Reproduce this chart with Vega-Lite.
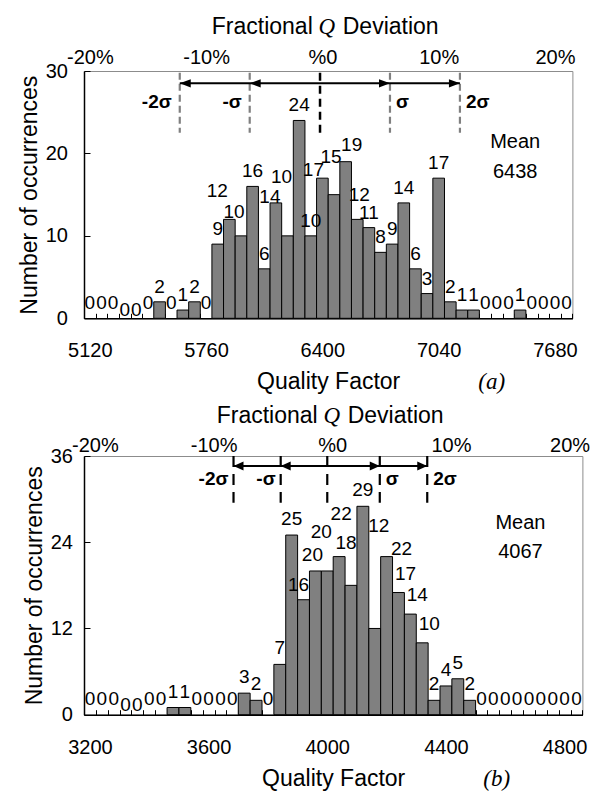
{
  "$schema": "https://vega.github.io/schema/vega-lite/v6.json",
  "background": "white",
  "padding": {"left": 17, "top": 15, "right": 5, "bottom": 0},
  "spacing": 9,
  "config": {
    "view": {"stroke": "#8c8c8c", "strokeWidth": 1},
    "axis": {"grid": false, "labelFont": "Liberation Sans", "titleFont": "Liberation Sans", "labelColor": "#000", "titleColor": "#000", "domainColor": "#000", "tickColor": "#000", "labelFontSize": 20, "titleFontSize": 23, "titleFontWeight": "normal"},
    "text": {"font": "Liberation Sans", "color": "#000", "fontSize": 19, "baseline": "alphabetic"}
  },
  "datasets": {
    "binsA": [
      {"lo":5088,"hi":5152,"mid":5120,"n":0},{"lo":5152,"hi":5216,"mid":5184,"n":0},{"lo":5216,"hi":5280,"mid":5248,"n":0},
      {"lo":5280,"hi":5344,"mid":5312,"n":0},{"lo":5344,"hi":5408,"mid":5376,"n":0},{"lo":5408,"hi":5472,"mid":5440,"n":0},
      {"lo":5472,"hi":5536,"mid":5504,"n":2},{"lo":5536,"hi":5600,"mid":5568,"n":0},{"lo":5600,"hi":5664,"mid":5632,"n":1},
      {"lo":5664,"hi":5728,"mid":5696,"n":2},{"lo":5728,"hi":5792,"mid":5760,"n":0},{"lo":5792,"hi":5856,"mid":5824,"n":9},
      {"lo":5856,"hi":5920,"mid":5888,"n":12},{"lo":5920,"hi":5984,"mid":5952,"n":10},{"lo":5984,"hi":6048,"mid":6016,"n":16},
      {"lo":6048,"hi":6112,"mid":6080,"n":6},{"lo":6112,"hi":6176,"mid":6144,"n":14},{"lo":6176,"hi":6240,"mid":6208,"n":10},
      {"lo":6240,"hi":6304,"mid":6272,"n":24},{"lo":6304,"hi":6368,"mid":6336,"n":10},{"lo":6368,"hi":6432,"mid":6400,"n":17},
      {"lo":6432,"hi":6496,"mid":6464,"n":15},{"lo":6496,"hi":6560,"mid":6528,"n":19},{"lo":6560,"hi":6624,"mid":6592,"n":12},
      {"lo":6624,"hi":6688,"mid":6656,"n":11},{"lo":6688,"hi":6752,"mid":6720,"n":8},{"lo":6752,"hi":6816,"mid":6784,"n":9},
      {"lo":6816,"hi":6880,"mid":6848,"n":14},{"lo":6880,"hi":6944,"mid":6912,"n":6},{"lo":6944,"hi":7008,"mid":6976,"n":3},
      {"lo":7008,"hi":7072,"mid":7040,"n":17},{"lo":7072,"hi":7136,"mid":7104,"n":2},{"lo":7136,"hi":7200,"mid":7168,"n":1},
      {"lo":7200,"hi":7264,"mid":7232,"n":1},{"lo":7264,"hi":7328,"mid":7296,"n":0},{"lo":7328,"hi":7392,"mid":7360,"n":0},
      {"lo":7392,"hi":7456,"mid":7424,"n":0},{"lo":7456,"hi":7520,"mid":7488,"n":1},{"lo":7520,"hi":7584,"mid":7552,"n":0},
      {"lo":7584,"hi":7648,"mid":7616,"n":0},{"lo":7648,"hi":7712,"mid":7680,"n":0},{"lo":7712,"hi":7776,"mid":7744,"n":0}
    ],
    "sigA": [
      {"k":-2,"pos":5615,"label":"-2σ"},{"k":-1,"pos":6000,"label":"-σ"},{"k":0,"pos":6387,"label":""},
      {"k":1,"pos":6772,"label":"σ"},{"k":2,"pos":7157,"label":"2σ"}
    ],
    "binsB": [
      {"lo":3180,"hi":3220,"mid":3200,"n":0},{"lo":3220,"hi":3260,"mid":3240,"n":0},{"lo":3260,"hi":3300,"mid":3280,"n":0},
      {"lo":3300,"hi":3340,"mid":3320,"n":0},{"lo":3340,"hi":3380,"mid":3360,"n":0},{"lo":3380,"hi":3420,"mid":3400,"n":0},
      {"lo":3420,"hi":3460,"mid":3440,"n":0},{"lo":3460,"hi":3500,"mid":3480,"n":1},{"lo":3500,"hi":3540,"mid":3520,"n":1},
      {"lo":3540,"hi":3580,"mid":3560,"n":0},{"lo":3580,"hi":3620,"mid":3600,"n":0},{"lo":3620,"hi":3660,"mid":3640,"n":0},
      {"lo":3660,"hi":3700,"mid":3680,"n":0},{"lo":3700,"hi":3740,"mid":3720,"n":3},{"lo":3740,"hi":3780,"mid":3760,"n":2},
      {"lo":3780,"hi":3820,"mid":3800,"n":0},{"lo":3820,"hi":3860,"mid":3840,"n":7},{"lo":3860,"hi":3900,"mid":3880,"n":25},
      {"lo":3900,"hi":3940,"mid":3920,"n":16},{"lo":3940,"hi":3980,"mid":3960,"n":20},{"lo":3980,"hi":4020,"mid":4000,"n":20},
      {"lo":4020,"hi":4060,"mid":4040,"n":22},{"lo":4060,"hi":4100,"mid":4080,"n":18},{"lo":4100,"hi":4140,"mid":4120,"n":29},
      {"lo":4140,"hi":4180,"mid":4160,"n":12},{"lo":4180,"hi":4220,"mid":4200,"n":22},{"lo":4220,"hi":4260,"mid":4240,"n":17},
      {"lo":4260,"hi":4300,"mid":4280,"n":14},{"lo":4300,"hi":4340,"mid":4320,"n":10},{"lo":4340,"hi":4380,"mid":4360,"n":2},
      {"lo":4380,"hi":4420,"mid":4400,"n":4},{"lo":4420,"hi":4460,"mid":4440,"n":5},{"lo":4460,"hi":4500,"mid":4480,"n":2},
      {"lo":4500,"hi":4540,"mid":4520,"n":0},{"lo":4540,"hi":4580,"mid":4560,"n":0},{"lo":4580,"hi":4620,"mid":4600,"n":0},
      {"lo":4620,"hi":4660,"mid":4640,"n":0},{"lo":4660,"hi":4700,"mid":4680,"n":0},{"lo":4700,"hi":4740,"mid":4720,"n":0},
      {"lo":4740,"hi":4780,"mid":4760,"n":0},{"lo":4780,"hi":4820,"mid":4800,"n":0},{"lo":4820,"hi":4860,"mid":4840,"n":0}
    ],
    "sigB": [
      {"k":-2,"pos":3684,"label":"-2σ"},{"k":-1,"pos":3843,"label":"-σ"},{"k":0,"pos":4000,"label":""},
      {"k":1,"pos":4177,"label":"σ"},{"k":2,"pos":4337,"label":"2σ"}
    ]
  },
  "vconcat": [
    {
      "width": 488.4,
      "height": 247.3,
      "resolve": {"axis": {"x": "independent"}},
      "layer": [
        {
          "data": {"name": "binsA"},
          "transform": [{"filter": "datum.n > 0"}],
          "mark": {"type": "rect", "fill": "#808080", "stroke": "#000", "strokeWidth": 1},
          "encoding": {
            "x": {"field": "lo", "type": "quantitative", "scale": {"domain": [5088, 7776], "nice": false, "zero": false},
              "axis": {"orient": "bottom", "values": [5088,5152,5216,5280,5344,5408,5472,5536,5600,5664,5728,5792,5856,5920,5984,6048,6112,6176,6240,6304,6368,6432,6496,6560,6624,6688,6752,6816,6880,6944,7008,7072,7136,7200,7264,7328,7392,7456,7520,7584,7648,7712,7776],
                "labelExpr": "indexof([5088,5728,6368,7008,7648], datum.value) >= 0 ? format(datum.value + 32, 'd') : ''",
                "labelOffset": 5.8, "labelFlush": false, "labelOverlap": false, "labelPadding": 27.6, "tickSize": -5, "domainWidth": 1.5,
                "title": "Quality Factor", "titlePadding": 10}},
            "x2": {"field": "hi"},
            "y": {"field": "n", "type": "quantitative", "scale": {"domain": [0, 30], "nice": false},
              "axis": {"values": [0, 10, 20, 30], "tickSize": -6, "labelPadding": 22.6, "domainWidth": 1.5, "title": "Number of occurrences", "titlePadding": 4}},
            "y2": {"datum": 0}
          }
        },
        {
          "data": {"name": "binsA"},
          "transform": [{"filter": "indexof([5312,5376,5888,5952,6144,6208,6400,6464,6528,6592], datum.mid) < 0"}],
          "mark": {"type": "text", "dy": -9},
          "encoding": {"x": {"field": "mid", "type": "quantitative", "axis": null}, "y": {"field": "n", "type": "quantitative"}, "text": {"field": "n", "type": "quantitative"}}
        },
        {
          "data": {"name": "binsA"},
          "transform": [{"filter": "datum.mid == 5312 || datum.mid == 5376"}],
          "mark": {"type": "text", "dy": -2},
          "encoding": {"x": {"field": "mid", "type": "quantitative", "axis": null}, "y": {"field": "n", "type": "quantitative"}, "text": {"field": "n", "type": "quantitative"}}
        },
        {
          "data": {"name": "binsA"},
          "transform": [{"filter": "datum.mid == 5888"}],
          "mark": {"type": "text", "dx": -12, "dy": -22},
          "encoding": {"x": {"field": "mid", "type": "quantitative", "axis": null}, "y": {"field": "n", "type": "quantitative"}, "text": {"field": "n", "type": "quantitative"}}
        },
        {
          "data": {"name": "binsA"},
          "transform": [{"filter": "datum.mid == 5952"}],
          "mark": {"type": "text", "dx": -7, "dy": -18},
          "encoding": {"x": {"field": "mid", "type": "quantitative", "axis": null}, "y": {"field": "n", "type": "quantitative"}, "text": {"field": "n", "type": "quantitative"}}
        },
        {
          "data": {"name": "binsA"},
          "transform": [{"filter": "datum.mid == 6144"}],
          "mark": {"type": "text", "dx": -6, "dy": 0},
          "encoding": {"x": {"field": "mid", "type": "quantitative", "axis": null}, "y": {"field": "n", "type": "quantitative"}, "text": {"field": "n", "type": "quantitative"}}
        },
        {
          "data": {"name": "binsA"},
          "transform": [{"filter": "datum.mid == 6208"}],
          "mark": {"type": "text", "dx": -6, "dy": -53},
          "encoding": {"x": {"field": "mid", "type": "quantitative", "axis": null}, "y": {"field": "n", "type": "quantitative"}, "text": {"field": "n", "type": "quantitative"}}
        },
        {
          "data": {"name": "binsA"},
          "transform": [{"filter": "datum.mid == 6400"}],
          "mark": {"type": "text", "dx": -9, "dy": -2},
          "encoding": {"x": {"field": "mid", "type": "quantitative", "axis": null}, "y": {"field": "n", "type": "quantitative"}, "text": {"field": "n", "type": "quantitative"}}
        },
        {
          "data": {"name": "binsA"},
          "transform": [{"filter": "datum.mid == 6464"}],
          "mark": {"type": "text", "dx": -3, "dy": -32},
          "encoding": {"x": {"field": "mid", "type": "quantitative", "axis": null}, "y": {"field": "n", "type": "quantitative"}, "text": {"field": "n", "type": "quantitative"}}
        },
        {
          "data": {"name": "binsA"},
          "transform": [{"filter": "datum.mid == 6528"}],
          "mark": {"type": "text", "dx": 6, "dy": -11},
          "encoding": {"x": {"field": "mid", "type": "quantitative", "axis": null}, "y": {"field": "n", "type": "quantitative"}, "text": {"field": "n", "type": "quantitative"}}
        },
        {
          "data": {"name": "binsA"},
          "transform": [{"filter": "datum.mid == 6592"}],
          "mark": {"type": "text", "dx": 2, "dy": -18},
          "encoding": {"x": {"field": "mid", "type": "quantitative", "axis": null}, "y": {"field": "n", "type": "quantitative"}, "text": {"field": "n", "type": "quantitative"}}
        },
        {
          "data": {"name": "sigA"},
          "transform": [{"filter": "datum.k != 0"}],
          "mark": {"type": "rule", "color": "#808080", "strokeWidth": 2.2, "strokeDash": [7, 4]},
          "encoding": {
            "x": {"field": "pos", "type": "quantitative",
              "axis": {"orient": "top", "values": [5120, 5760, 6400, 7040, 7680],
                "labelExpr": "datum.value == 5120 ? '-20%' : datum.value == 5760 ? '-10%' : datum.value == 6400 ? '%0' : datum.value == 7040 ? '10%' : '20%'",
                "ticks": false, "domain": false, "title": null, "labelPadding": 8, "labelBaseline": "alphabetic", "labelFlush": false, "labelOverlap": false}},
            "y": {"datum": 29.8},
            "y2": {"datum": 22.5}
          }
        },
        {
          "data": {"name": "sigA"},
          "transform": [{"filter": "datum.k == 0"}],
          "mark": {"type": "rule", "color": "#000", "strokeWidth": 2.5, "strokeDash": [8, 5]},
          "encoding": {"x": {"field": "pos", "type": "quantitative", "axis": null}, "y": {"datum": 29.8}, "y2": {"datum": 22.5}}
        },
        {
          "data": {"name": "sigA"},
          "mark": {"type": "rule", "color": "#000", "strokeWidth": 2},
          "encoding": {
            "x": {"aggregate": "min", "field": "pos", "type": "quantitative", "axis": null},
            "x2": {"aggregate": "max", "field": "pos"},
            "y": {"datum": 28.5}
          }
        },
        {
          "data": {"name": "sigA"},
          "transform": [{"filter": "datum.k < 0"}],
          "mark": {"type": "point", "shape": "M0,0L2,-0.73L2,0.73Z", "size": 121, "filled": true, "color": "#000", "opacity": 1, "strokeWidth": 0},
          "encoding": {"x": {"field": "pos", "type": "quantitative", "axis": null}, "y": {"datum": 28.5}}
        },
        {
          "data": {"name": "sigA"},
          "transform": [{"filter": "datum.k > 0"}],
          "mark": {"type": "point", "shape": "M0,0L-2,-0.73L-2,0.73Z", "size": 121, "filled": true, "color": "#000", "opacity": 1, "strokeWidth": 0},
          "encoding": {"x": {"field": "pos", "type": "quantitative", "axis": null}, "y": {"datum": 28.5}}
        },
        {
          "data": {"name": "sigA"},
          "transform": [{"filter": "datum.k < 0"}],
          "mark": {"type": "text", "fontWeight": "bold", "align": "right", "baseline": "middle", "dx": -8},
          "encoding": {"x": {"field": "pos", "type": "quantitative", "axis": null}, "y": {"datum": 26.2}, "text": {"field": "label"}}
        },
        {
          "data": {"name": "sigA"},
          "transform": [{"filter": "datum.k > 0"}],
          "mark": {"type": "text", "fontWeight": "bold", "align": "left", "baseline": "middle", "dx": 6},
          "encoding": {"x": {"field": "pos", "type": "quantitative", "axis": null}, "y": {"datum": 26.2}, "text": {"field": "label"}}
        },
        {
          "data": {"values": [{}]},
          "mark": {"type": "text", "text": ["Mean", "6438"], "fontSize": 20, "lineHeight": 30, "align": "center"},
          "encoding": {"x": {"datum": 7461, "type": "quantitative", "axis": null}, "y": {"datum": 20.7}}
        },
        {
          "data": {"values": [{}]},
          "mark": {"type": "text", "text": "Fractional", "fontSize": 23, "align": "right", "dx": -14},
          "encoding": {"x": {"datum": 6424, "type": "quantitative", "axis": null}, "y": {"datum": 34.5}}
        },
        {
          "data": {"values": [{}]},
          "mark": {"type": "text", "text": "Q", "font": "Liberation Serif", "fontStyle": "italic", "fontSize": 23, "align": "center"},
          "encoding": {"x": {"datum": 6424, "type": "quantitative", "axis": null}, "y": {"datum": 34.5}}
        },
        {
          "data": {"values": [{}]},
          "mark": {"type": "text", "text": "Deviation", "fontSize": 23, "align": "left", "dx": 16},
          "encoding": {"x": {"datum": 6424, "type": "quantitative", "axis": null}, "y": {"datum": 34.5}}
        },
        {
          "data": {"values": [{}]},
          "mark": {"type": "text", "text": "(a)", "font": "Liberation Serif", "fontStyle": "italic", "fontSize": 23, "align": "center"},
          "encoding": {"x": {"datum": 7332, "type": "quantitative", "axis": null}, "y": {"datum": -8.6}}
        }
      ]
    },
    {
      "width": 498.4,
      "height": 258.7,
      "resolve": {"axis": {"x": "independent"}},
      "layer": [
        {
          "data": {"name": "binsB"},
          "transform": [{"filter": "datum.n > 0"}],
          "mark": {"type": "rect", "fill": "#808080", "stroke": "#000", "strokeWidth": 1},
          "encoding": {
            "x": {"field": "lo", "type": "quantitative", "scale": {"domain": [3180, 4860], "nice": false, "zero": false},
              "axis": {"orient": "bottom", "values": [3180,3220,3260,3300,3340,3380,3420,3460,3500,3540,3580,3620,3660,3700,3740,3780,3820,3860,3900,3940,3980,4020,4060,4100,4140,4180,4220,4260,4300,4340,4380,4420,4460,4500,4540,4580,4620,4660,4700,4740,4780,4820,4860],
                "labelExpr": "indexof([3180,3580,3980,4380,4780], datum.value) >= 0 ? format(datum.value + 20, 'd') : ''",
                "labelOffset": 5.9, "labelFlush": false, "labelOverlap": false, "labelPadding": 27.6, "tickSize": -5, "domainWidth": 1.5,
                "title": "Quality Factor", "titlePadding": 10}},
            "x2": {"field": "hi"},
            "y": {"field": "n", "type": "quantitative", "scale": {"domain": [0, 36], "nice": false},
              "axis": {"values": [0, 12, 24, 36], "tickSize": -6, "labelPadding": 17.6, "domainWidth": 1.5, "title": "Number of occurrences", "titlePadding": 4}},
            "y2": {"datum": 0}
          }
        },
        {
          "data": {"name": "binsB"},
          "transform": [{"filter": "indexof([3320,3360,3920,3960,4000,4040,4080,4160,4200,4240,4280,4320], datum.mid) < 0"}],
          "mark": {"type": "text", "dy": -10},
          "encoding": {"x": {"field": "mid", "type": "quantitative", "axis": null}, "y": {"field": "n", "type": "quantitative"}, "text": {"field": "n", "type": "quantitative"}}
        },
        {
          "data": {"name": "binsB"},
          "transform": [{"filter": "datum.mid == 3320 || datum.mid == 3360"}],
          "mark": {"type": "text", "dy": -4},
          "encoding": {"x": {"field": "mid", "type": "quantitative", "axis": null}, "y": {"field": "n", "type": "quantitative"}, "text": {"field": "n", "type": "quantitative"}}
        },
        {
          "data": {"name": "binsB"},
          "transform": [{"filter": "datum.mid == 3920"}],
          "mark": {"type": "text", "dx": -5, "dy": -9},
          "encoding": {"x": {"field": "mid", "type": "quantitative", "axis": null}, "y": {"field": "n", "type": "quantitative"}, "text": {"field": "n", "type": "quantitative"}}
        },
        {
          "data": {"name": "binsB"},
          "transform": [{"filter": "datum.mid == 3960"}],
          "mark": {"type": "text", "dx": -3, "dy": -10},
          "encoding": {"x": {"field": "mid", "type": "quantitative", "axis": null}, "y": {"field": "n", "type": "quantitative"}, "text": {"field": "n", "type": "quantitative"}}
        },
        {
          "data": {"name": "binsB"},
          "transform": [{"filter": "datum.mid == 4000"}],
          "mark": {"type": "text", "dx": -6, "dy": -33},
          "encoding": {"x": {"field": "mid", "type": "quantitative", "axis": null}, "y": {"field": "n", "type": "quantitative"}, "text": {"field": "n", "type": "quantitative"}}
        },
        {
          "data": {"name": "binsB"},
          "transform": [{"filter": "datum.mid == 4040"}],
          "mark": {"type": "text", "dx": 2, "dy": -37},
          "encoding": {"x": {"field": "mid", "type": "quantitative", "axis": null}, "y": {"field": "n", "type": "quantitative"}, "text": {"field": "n", "type": "quantitative"}}
        },
        {
          "data": {"name": "binsB"},
          "transform": [{"filter": "datum.mid == 4080"}],
          "mark": {"type": "text", "dx": -5, "dy": -36},
          "encoding": {"x": {"field": "mid", "type": "quantitative", "axis": null}, "y": {"field": "n", "type": "quantitative"}, "text": {"field": "n", "type": "quantitative"}}
        },
        {
          "data": {"name": "binsB"},
          "transform": [{"filter": "datum.mid == 4160"}],
          "mark": {"type": "text", "dx": 4, "dy": -96},
          "encoding": {"x": {"field": "mid", "type": "quantitative", "axis": null}, "y": {"field": "n", "type": "quantitative"}, "text": {"field": "n", "type": "quantitative"}}
        },
        {
          "data": {"name": "binsB"},
          "transform": [{"filter": "datum.mid == 4200"}],
          "mark": {"type": "text", "dx": 15, "dy": -2},
          "encoding": {"x": {"field": "mid", "type": "quantitative", "axis": null}, "y": {"field": "n", "type": "quantitative"}, "text": {"field": "n", "type": "quantitative"}}
        },
        {
          "data": {"name": "binsB"},
          "transform": [{"filter": "datum.mid == 4240 || datum.mid == 4280 || datum.mid == 4320"}],
          "mark": {"type": "text", "dx": 7, "dy": -13},
          "encoding": {"x": {"field": "mid", "type": "quantitative", "axis": null}, "y": {"field": "n", "type": "quantitative"}, "text": {"field": "n", "type": "quantitative"}}
        },
        {
          "data": {"name": "sigB"},
          "mark": {"type": "rule", "color": "#000", "strokeWidth": 2.2, "strokeDash": [11, 7]},
          "encoding": {
            "x": {"field": "pos", "type": "quantitative",
              "axis": {"orient": "top", "values": [3200, 3600, 4000, 4400, 4800],
                "labelExpr": "datum.value == 3200 ? '-20%' : datum.value == 3600 ? '-10%' : datum.value == 4000 ? '%0' : datum.value == 4400 ? '10%' : '20%'",
                "ticks": false, "domain": false, "title": null, "labelPadding": 5, "labelOffset": 5, "labelBaseline": "alphabetic", "labelFlush": false, "labelOverlap": false}},
            "y": {"datum": 36},
            "y2": {"datum": 29.5}
          }
        },
        {
          "data": {"name": "sigB"},
          "mark": {"type": "rule", "color": "#000", "strokeWidth": 2},
          "encoding": {
            "x": {"aggregate": "min", "field": "pos", "type": "quantitative", "axis": null},
            "x2": {"aggregate": "max", "field": "pos"},
            "y": {"datum": 34.6}
          }
        },
        {
          "data": {"name": "sigB"},
          "transform": [{"filter": "datum.k < 0"}],
          "mark": {"type": "point", "shape": "M0,0L2,-0.9L2,0.9Z", "size": 100, "filled": true, "color": "#000", "opacity": 1, "strokeWidth": 0},
          "encoding": {"x": {"field": "pos", "type": "quantitative", "axis": null}, "y": {"datum": 34.6}}
        },
        {
          "data": {"name": "sigB"},
          "transform": [{"filter": "datum.k > 0"}],
          "mark": {"type": "point", "shape": "M0,0L-2,-0.9L-2,0.9Z", "size": 100, "filled": true, "color": "#000", "opacity": 1, "strokeWidth": 0},
          "encoding": {"x": {"field": "pos", "type": "quantitative", "axis": null}, "y": {"datum": 34.6}}
        },
        {
          "data": {"name": "sigB"},
          "transform": [{"filter": "datum.k < 0"}],
          "mark": {"type": "text", "fontWeight": "bold", "align": "right", "baseline": "middle", "dx": -5},
          "encoding": {"x": {"field": "pos", "type": "quantitative", "axis": null}, "y": {"datum": 32.8}, "text": {"field": "label"}}
        },
        {
          "data": {"name": "sigB"},
          "transform": [{"filter": "datum.k > 0"}],
          "mark": {"type": "text", "fontWeight": "bold", "align": "left", "baseline": "middle", "dx": 6},
          "encoding": {"x": {"field": "pos", "type": "quantitative", "axis": null}, "y": {"datum": 32.8}, "text": {"field": "label"}}
        },
        {
          "data": {"values": [{}]},
          "mark": {"type": "text", "text": ["Mean", "4067"], "fontSize": 20, "lineHeight": 29, "align": "center"},
          "encoding": {"x": {"datum": 4651, "type": "quantitative", "axis": null}, "y": {"datum": 25.8}}
        },
        {
          "data": {"values": [{}]},
          "mark": {"type": "text", "text": "Fractional", "fontSize": 23, "align": "right", "dx": -14},
          "encoding": {"x": {"datum": 4015, "type": "quantitative", "axis": null}, "y": {"datum": 40.6}}
        },
        {
          "data": {"values": [{}]},
          "mark": {"type": "text", "text": "Q", "font": "Liberation Serif", "fontStyle": "italic", "fontSize": 23, "align": "center"},
          "encoding": {"x": {"datum": 4015, "type": "quantitative", "axis": null}, "y": {"datum": 40.6}}
        },
        {
          "data": {"values": [{}]},
          "mark": {"type": "text", "text": "Deviation", "fontSize": 23, "align": "left", "dx": 16},
          "encoding": {"x": {"datum": 4015, "type": "quantitative", "axis": null}, "y": {"datum": 40.6}}
        },
        {
          "data": {"values": [{}]},
          "mark": {"type": "text", "text": "(b)", "font": "Liberation Serif", "fontStyle": "italic", "fontSize": 23, "align": "center"},
          "encoding": {"x": {"datum": 4571, "type": "quantitative", "axis": null}, "y": {"datum": -9.9}}
        }
      ]
    }
  ]
}
